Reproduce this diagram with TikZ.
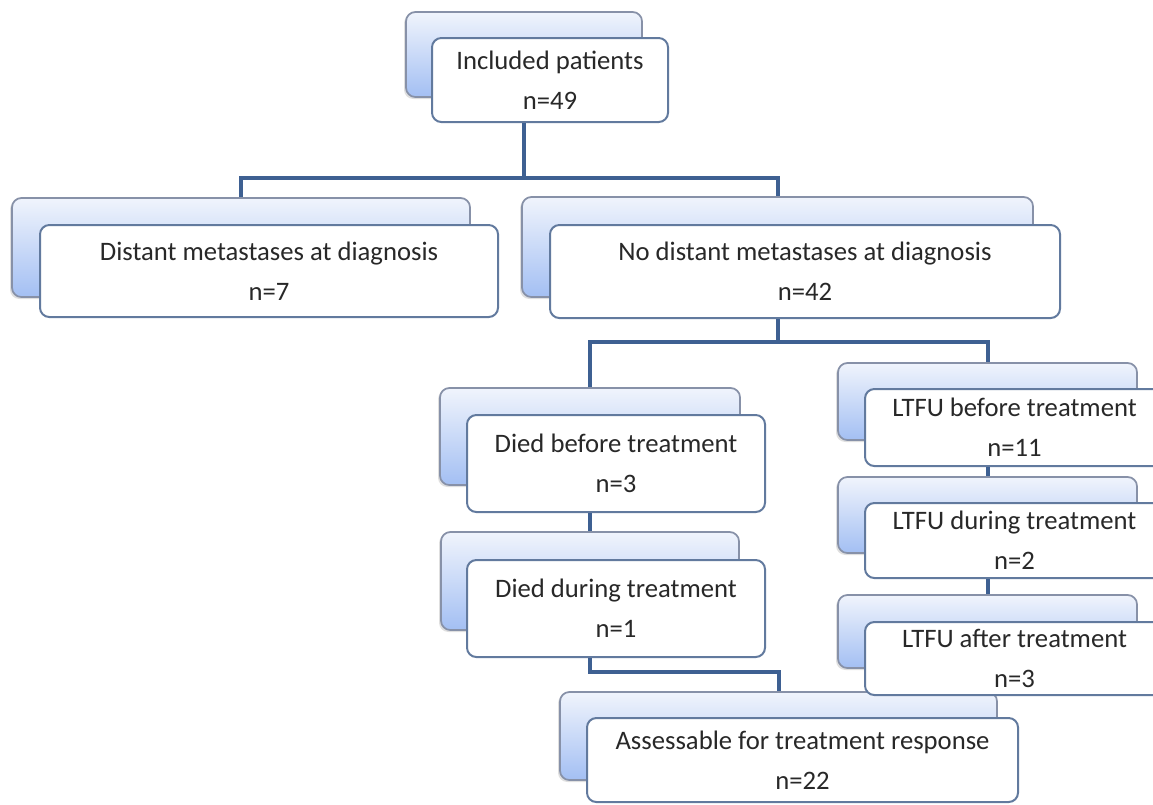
\documentclass[tikz,border=0pt]{standalone}
\usepackage{fontspec}
\setmainfont{Carlito}
\usetikzlibrary{shadows}
\definecolor{linkblue}{RGB}{62,96,146}
\definecolor{frontline}{RGB}{98,122,158}
\definecolor{backline}{RGB}{135,145,168}
\definecolor{backtop}{RGB}{240,244,252}
\definecolor{backbottom}{RGB}{163,191,243}
\definecolor{textgray}{RGB}{40,40,40}
\begin{document}
\begin{tikzpicture}[x=0.75pt,y=0.75pt,yscale=-1,xscale=1,
  backbox/.style={draw=backline,line width=1.3pt,rounded corners=7pt,top color=backtop,bottom color=backbottom,
    drop shadow={shadow xshift=-1.5pt,shadow yshift=-1.5pt,opacity=0.25},inner sep=0pt},
  frontbox/.style={draw=frontline,line width=1.5pt,rounded corners=7pt,fill=white,align=center,inner sep=0pt,
    text=textgray,font=\fontsize{20}{30}\selectfont},
  link/.style={draw=linkblue,line width=3pt}]
\useasboundingbox (0,0) rectangle (1153,804);

%Shape: back boxes
\node [backbox,minimum width=177pt,minimum height=63.75pt] (incB) at (524,54.5) {};
\node [backbox,minimum width=343.5pt,minimum height=74.25pt] (distB) at (241,247.5) {};
\node [backbox,minimum width=383.25pt,minimum height=75pt] (nodistB) at (777.5,247) {};
\node [backbox,minimum width=225pt,minimum height=72.75pt] (diedbB) at (590,436.5) {};
\node [backbox,minimum width=223.5pt,minimum height=73.5pt] (dieddB) at (590,581) {};
\node [backbox,minimum width=224.25pt,minimum height=57.75pt] (ltfubB) at (987.5,401.5) {};
\node [backbox,minimum width=224.25pt,minimum height=57pt] (ltfudB) at (987.5,515) {};
\node [backbox,minimum width=224.25pt,minimum height=54.75pt] (ltfuaB) at (987.5,631.5) {};
\node [backbox,minimum width=327.75pt,minimum height=66pt] (assB) at (778.5,736) {};

% Text Node
\node [frontbox,minimum width=177pt,minimum height=63pt] (inc) at (550,80) {Included patients\\n=49};
% Text Node
\node [frontbox,minimum width=343.5pt,minimum height=69pt] (dist) at (269,271) {Distant metastases at diagnosis\\n=7};
% Text Node
\node [frontbox,minimum width=382.5pt,minimum height=69.75pt] (nodist) at (805,271.5) {No distant metastases at diagnosis\\n=42};
% Text Node
\node [frontbox,minimum width=223.5pt,minimum height=72.75pt] (diedb) at (616,463.5) {Died before treatment\\n=3};
% Text Node
\node [frontbox,minimum width=223.5pt,minimum height=72.75pt] (diedd) at (616,608.5) {Died during treatment\\n=1};
% Text Node
\node [frontbox,minimum width=224.25pt,minimum height=57.75pt] (ltfub) at (1014.5,427.5) {LTFU before treatment\\n=11};
% Text Node
\node [frontbox,minimum width=224.25pt,minimum height=56.25pt] (ltfud) at (1014.5,540.5) {LTFU during treatment\\n=2};
% Text Node
\node [frontbox,minimum width=224.25pt,minimum height=54.75pt] (ltfua) at (1014.5,658.5) {LTFU after treatment\\n=3};
% Text Node
\node [frontbox,minimum width=323.25pt,minimum height=63pt] (ass) at (802.5,760) {Assessable for treatment response\\n=22};

%Straight Lines
\coordinate (bus1) at (524,178);
\coordinate (bus2) at (777.5,342);
\coordinate (bus3) at (590,672);
\draw [link] (inc.south -| incB) -- (bus1);
\draw [link] (distB.north) |- (bus1) -| (nodistB.north);
\draw [link] (nodist.south -| nodistB) -- (bus2);
\draw [link] (diedbB.north) |- (bus2) -| (ltfubB.north);
\draw [link] (diedb.south -| diedbB) -- (dieddB.north);
\draw [link] (diedd.south -| dieddB) -- (bus3) -| (assB.north);
\draw [link] (ltfub.south -| ltfubB) -- (ltfudB.north);
\draw [link] (ltfud.south -| ltfudB) -- (ltfuaB.north);

\end{tikzpicture}
\end{document}
